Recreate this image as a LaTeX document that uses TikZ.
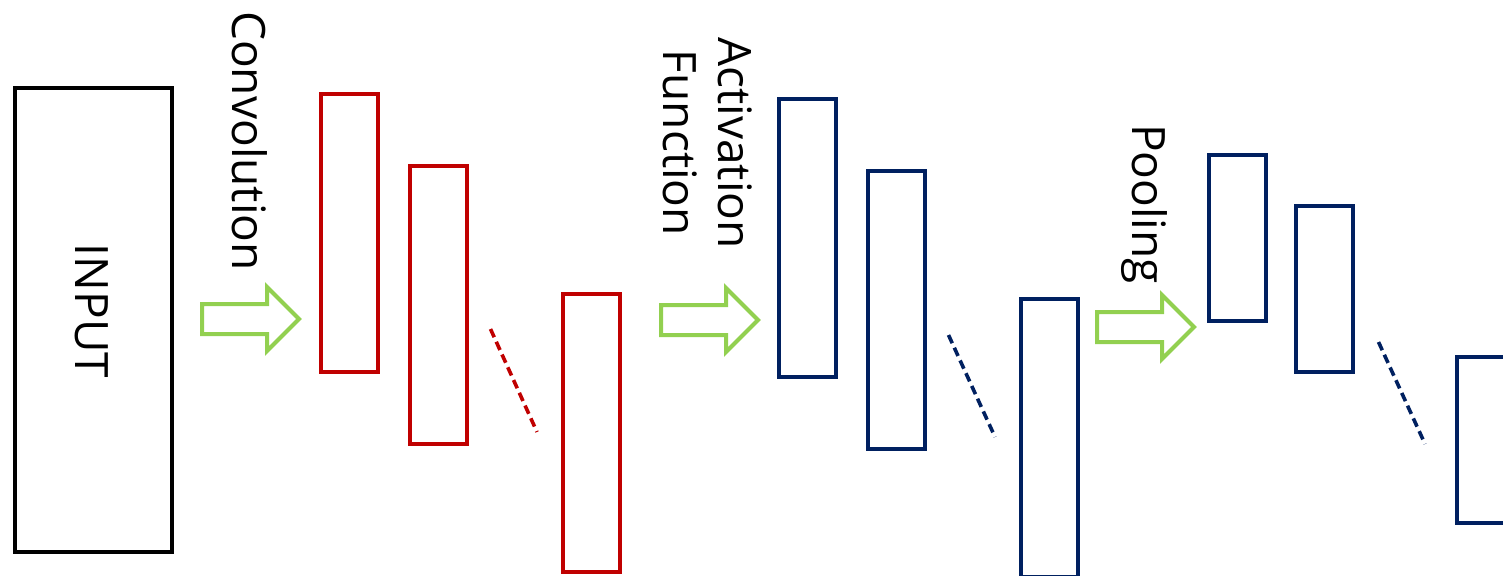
\documentclass[tikz,border=0pt]{standalone}
\usepackage{fontspec}
\setmainfont{Open Sans}
\definecolor{convred}{HTML}{C00000}
\definecolor{mapblue}{HTML}{002060}
\definecolor{stepgreen}{HTML}{92D050}
\begin{document}
\begin{tikzpicture}[x=1pt,y=-1pt,
  lbl/.style={font=\fontsize{46}{55}\selectfont, rotate=-90, inner sep=0pt},
  inbox/.style={draw=black, line width=4pt, inner sep=0pt, minimum width=157pt, minimum height=464pt},
  redmap/.style={draw=convred, line width=4pt, inner sep=0pt, minimum width=57pt, minimum height=278pt},
  bluemap/.style={draw=mapblue, line width=4pt, inner sep=0pt, minimum width=57pt, minimum height=278pt},
  poolmap/.style={draw=mapblue, line width=4pt, inner sep=0pt, minimum width=57pt, minimum height=166pt},
  gap/.style={line width=3.6pt, dash pattern=on 9pt off 5pt},
  blockarrow/.pic={\draw[stepgreen, line width=4pt]
    (0,-15) -- (65,-15) -- (65,-32) -- (97,0) -- (65,32) -- (65,15) -- (0,15) -- cycle;}]
\useasboundingbox (0,0) rectangle (1503,575);
\clip (0,0) rectangle (1503,575);

% input volume
\node[inbox] (input) at (93.5,320) {};
\node[lbl, anchor=base] (inputlbl) at (75,311) {INPUT};

% convolution stage
\pic at (202,319) {blockarrow};
\node[lbl, anchor=base] (convlbl) at (232,141) {Convolution};
\node[redmap] (c1) at (349.5,233) {};
\node[redmap] (c2) at (438.5,305) {};
\node[redmap] (c3) at (591.5,433) {};
\coordinate (cdA) at (490.5,329);
\coordinate (cdB) at (537,432);
\draw[gap, convred] (cdA) -- (cdB);

% activation stage
\pic at (661,320) {blockarrow};
\node[lbl, align=center] (actlbl) at (708,143) {Activation\\Function};
\node[bluemap] (a1) at (807.5,238) {};
\node[bluemap] (a2) at (896.5,310) {};
\node[bluemap] (a3) at (1049.5,438) {};
\coordinate (adA) at (948.5,335);
\coordinate (adB) at (995,437);
\draw[gap, mapblue] (adA) -- (adB);

% pooling stage
\pic at (1097,327) {blockarrow};
\node[lbl, anchor=base] (poollbl) at (1132,204) {Pooling};
\node[poolmap] (p1) at (1237.5,238) {};
\node[poolmap] (p2) at (1324.5,288.5) {};
\node[poolmap] (p3) at (1485.5,440) {};
\coordinate (pdA) at (1378.5,342);
\coordinate (pdB) at (1425,444);
\draw[gap, mapblue] (pdA) -- (pdB);
\end{tikzpicture}
\end{document}
